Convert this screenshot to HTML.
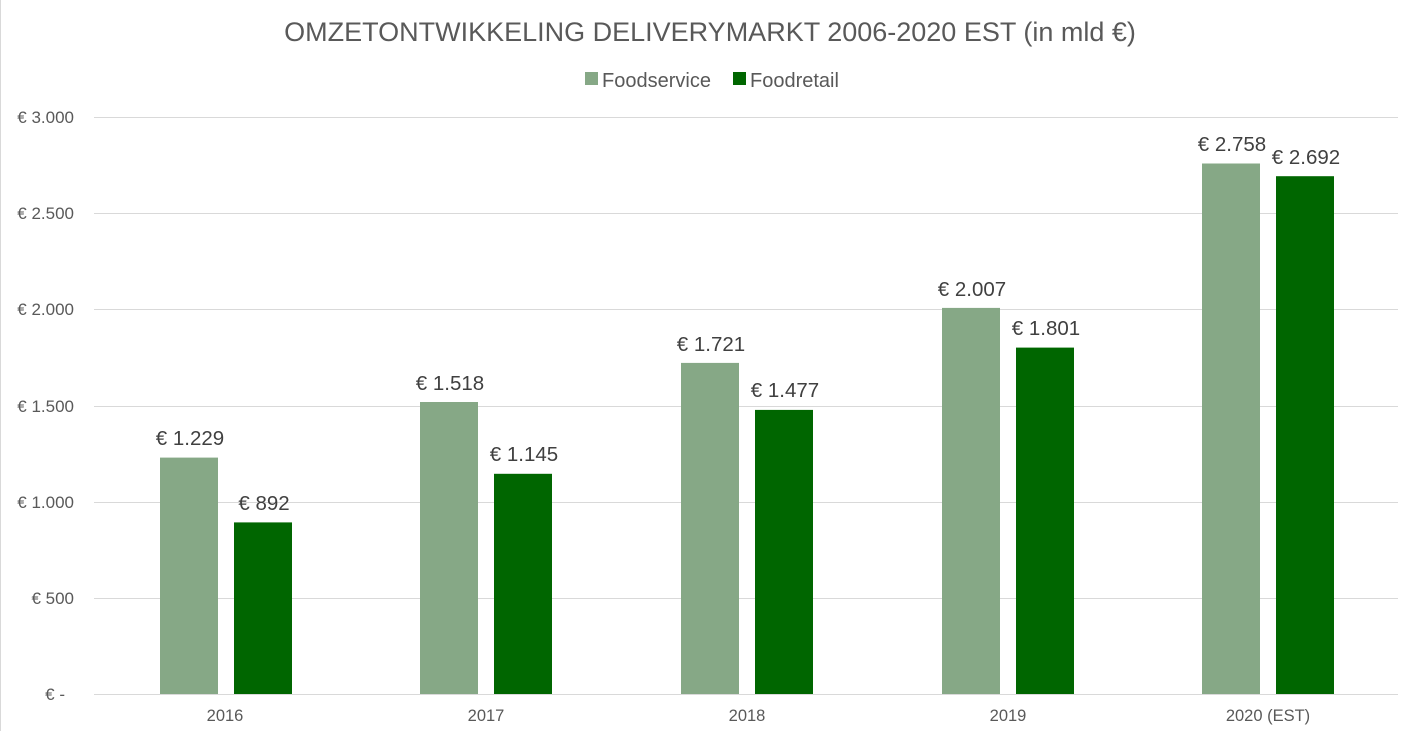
<!DOCTYPE html>
<html><head><meta charset="utf-8"><style>
html,body{margin:0;padding:0;background:#fff}
svg{display:block;font-family:"Liberation Sans",sans-serif}
</style></head><body>
<svg width="1413" height="731" viewBox="0 0 1413 731" xmlns="http://www.w3.org/2000/svg">
<rect x="0.5" y="-1" width="1420" height="740" fill="#fff" stroke="#d9d9d9"/>
<text x="710" y="41" text-anchor="middle" font-size="27" fill="#595959">OMZETONTWIKKELING DELIVERYMARKT 2006-2020 EST (in mld €)</text>
<rect x="585" y="72" width="13" height="13" fill="#86a886"/>
<text x="602" y="87" font-size="20" fill="#595959">Foodservice</text>
<rect x="733" y="72" width="13" height="13" fill="#006600"/>
<text x="750" y="87" font-size="20" fill="#595959">Foodretail</text>
<g stroke="#d9d9d9" stroke-width="1">
<line x1="94" x2="1398" y1="117.5" y2="117.5"/>
<line x1="94" x2="1398" y1="213.5" y2="213.5"/>
<line x1="94" x2="1398" y1="309.5" y2="309.5"/>
<line x1="94" x2="1398" y1="406.5" y2="406.5"/>
<line x1="94" x2="1398" y1="502.5" y2="502.5"/>
<line x1="94" x2="1398" y1="598.5" y2="598.5"/>
<line x1="94" x2="1398" y1="694.5" y2="694.5"/>
</g>
<g font-size="17" fill="#595959" text-anchor="end">
<text x="74" y="123">€ 3.000</text>
<text x="74" y="219">€ 2.500</text>
<text x="74" y="315">€ 2.000</text>
<text x="74" y="412">€ 1.500</text>
<text x="74" y="508">€ 1.000</text>
<text x="74" y="604">€ 500</text>
<text x="65" y="700">€ -</text>
</g>
<g font-size="16.5" fill="#595959" text-anchor="middle">
<text x="225" y="721">2016</text>
<text x="486" y="721">2017</text>
<text x="747" y="721">2018</text>
<text x="1008" y="721">2019</text>
<text x="1268" y="721">2020 (EST)</text>
</g>
<g>
<rect x="160" y="457.6" width="58" height="236.4" fill="#86a886"/>
<rect x="234" y="522.4" width="58" height="171.6" fill="#006600"/>
<rect x="420" y="402.0" width="58" height="292.0" fill="#86a886"/>
<rect x="494" y="473.8" width="58" height="220.2" fill="#006600"/>
<rect x="681" y="362.9" width="58" height="331.1" fill="#86a886"/>
<rect x="755" y="409.9" width="58" height="284.1" fill="#006600"/>
<rect x="942" y="307.9" width="58" height="386.1" fill="#86a886"/>
<rect x="1016" y="347.6" width="58" height="346.4" fill="#006600"/>
<rect x="1202" y="163.5" width="58" height="530.5" fill="#86a886"/>
<rect x="1276" y="176.2" width="58" height="517.8" fill="#006600"/>
</g>
<g font-size="20.5" fill="#404040" text-anchor="middle">
<text x="190" y="445">€ 1.229</text>
<text x="264" y="510">€ 892</text>
<text x="450" y="390">€ 1.518</text>
<text x="524" y="461">€ 1.145</text>
<text x="711" y="351">€ 1.721</text>
<text x="785" y="397">€ 1.477</text>
<text x="972" y="296">€ 2.007</text>
<text x="1046" y="335">€ 1.801</text>
<text x="1232" y="151">€ 2.758</text>
<text x="1306" y="164">€ 2.692</text>
</g>
</svg>
</body></html>
